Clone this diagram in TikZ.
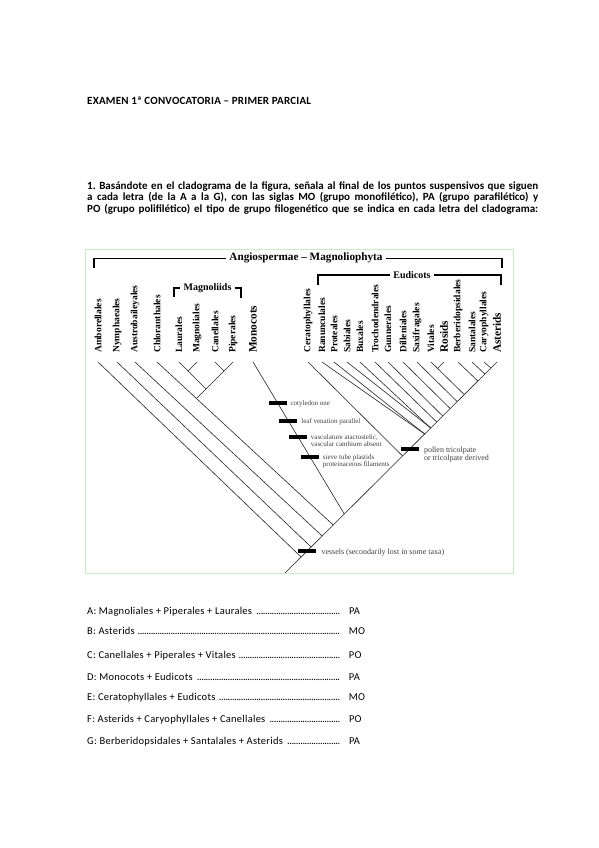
\documentclass[tikz,border=0pt]{standalone}
\usepackage{fontspec}
\setmainfont{Carlito}
\newfontfamily\tnr{Liberation Serif}
\definecolor{marco}{RGB}{200,236,200}
\newcommand{\puntos}{\leaders\hbox to 2.2pt{\hss.\hss}\hfill}
\newcommand{\respuesta}[2]{\makebox[255pt][l]{#1\ \puntos}\hspace{7pt}#2}
\newcommand{\renglon}[1]{\makebox[451pt][s]{#1}}
\frenchspacing

\begin{document}
\begin{tikzpicture}[x=1pt,y=1pt,yscale=-1,
  rama/.style={line width=0.6pt,draw=black!85},
  llave/.style={line width=1.1pt},
  taxon/.style={rotate=90,anchor=west,inner sep=0pt,font=\tnr\bfseries\fontsize{9.5}{9.5}\selectfont},
  grupo/.style={taxon,font=\tnr\bfseries\fontsize{11.3}{11.3}\selectfont},
  titulo/.style={inner sep=3pt,font=\tnr\bfseries\fontsize{11.2}{11.2}\selectfont},
  clado/.style={inner sep=3pt,font=\tnr\bfseries\fontsize{10}{10}\selectfont},
  barra/.style={fill=black,inner sep=0pt,minimum width=18pt,minimum height=4.3pt},
  nota/.style={anchor=north west,inner xsep=3.5pt,inner ysep=0pt,align=left,text=black!75,font=\tnr\fontsize{7}{6.8}\selectfont},
  enun/.style={anchor=base west,inner sep=0pt,font=\bfseries\fontsize{11}{12}\selectfont},
  resp/.style={anchor=base west,inner sep=0pt,font=\fontsize{10.5}{12}\selectfont\addfontfeature{LetterSpace=2.5}}]

\fill[white] (0,0) rectangle (599,848);
\useasboundingbox (0,0) rectangle (599,848);

%=====Enunciado=======
\node[enun,font=\bfseries\fontsize{11}{12}\selectfont\addfontfeature{LetterSpace=2}] (examen) at (87,105) {EXAMEN 1ª CONVOCATORIA – PRIMER PARCIAL};

\node[enun] (preg1) at (87,189) {\renglon{1. Basándote en el cladograma de la figura, señala al final de los puntos suspensivos que siguen}};
\node[enun] (preg2) at (87,200.7) {\renglon{a cada letra (de la A a la G), con las siglas MO (grupo monofilético), PA (grupo parafilético) y}};
\node[enun] (preg3) at (87,212.3) {\renglon{PO (grupo polifilético) el tipo de grupo filogenético que se indica en cada letra del cladograma:}};

%=====Marco de la figura=======
\draw[marco,line width=0.9pt] (85,249) rectangle (513,573);

%=====Puntas y nudos=======
\coordinate (t-amb) at (98,362);  \coordinate (t-nym) at (117,362); \coordinate (t-aus) at (135,362);
\coordinate (t-chl) at (157,362); \coordinate (t-lau) at (179,362); \coordinate (t-mag) at (197,362);
\coordinate (t-can) at (215,362); \coordinate (t-pip) at (233,362); \coordinate (t-mono) at (253,362);
\coordinate (t-cer) at (308,362); \coordinate (t-ran) at (322,362); \coordinate (t-pro) at (334,362);
\coordinate (t-sab) at (347,362); \coordinate (t-bux) at (360,362); \coordinate (t-tro) at (375,362);
\coordinate (t-gun) at (388,362); \coordinate (t-dil) at (403,362); \coordinate (t-sax) at (417,362);
\coordinate (t-vit) at (431,362); \coordinate (t-ros) at (444,362); \coordinate (t-ber) at (458,362);
\coordinate (t-san) at (472,362); \coordinate (t-car) at (484,362); \coordinate (t-ast) at (497,362);

\coordinate (j-raiz) at (285,573); \coordinate (j-amb) at (301.1,557); \coordinate (j-vasos) at (307.1,551);
\coordinate (j-nym) at (311.1,547); \coordinate (j-aus) at (322.2,536); \coordinate (j-chl) at (333.2,525);
\coordinate (j-mono) at (344.3,514); \coordinate (j-cer) at (402.6,456); \coordinate (j-polen) at (409.6,449);
\coordinate (j-eud) at (424.7,434); \coordinate (j-bux) at (430.7,428); \coordinate (j-tro) at (436.7,422);
\coordinate (j-gun) at (442.7,416); \coordinate (j-dil) at (450.1,408.5); \coordinate (j-sax) at (457.1,401.5);
\coordinate (j-vit) at (464.2,394.5); \coordinate (j-ber) at (477.9,381); \coordinate (j-san) at (484.9,374);
\coordinate (j-car) at (490.9,368);
\coordinate (j-mag) at (188,371); \coordinate (j-can) at (224,371); \coordinate (j-lau) at (206,389);
\coordinate (j-mgl) at (196.5,398.5); \coordinate (j-ros) at (437.5,368.5);

%=====Ramas=======
\draw[rama] (j-raiz) -- (t-ast);
\draw[rama] (t-amb) -- (j-amb);
\draw[rama] (t-nym) -- (j-nym);
\draw[rama] (t-aus) -- (j-aus);
\draw[rama] (t-chl) -- (j-chl);
\draw[rama] (t-pip) -- (j-mgl);
\draw[rama] (t-lau) -- (j-lau);
\draw[rama] (t-mag) -- (j-mag);
\draw[rama] (t-can) -- (j-can);
\draw[rama] (t-mono) -- (j-mono);
\draw[rama] (t-cer) -- (j-cer);
\draw[rama] (t-ran) -- (j-eud);
\draw[rama] (t-pro) -- (j-eud);
\draw[rama] (t-sab) -- (j-bux);
\draw[rama] (t-bux) -- (j-bux);
\draw[rama] (t-tro) -- (j-tro);
\draw[rama] (t-gun) -- (j-gun);
\draw[rama] (t-dil) -- (j-dil);
\draw[rama] (t-sax) -- (j-sax);
\draw[rama] (t-vit) -- (j-vit);
\draw[rama] (t-ros) -- (j-ros);
\draw[rama] (t-ber) -- (j-ber);
\draw[rama] (t-san) -- (j-san);
\draw[rama] (t-car) -- (j-car);

%=====Caracteres=======
\path (t-mono) -- (j-mono) coordinate[pos=0.27] (c-coti) coordinate[pos=0.388] (c-hoja) coordinate[pos=0.493] (c-vasc) coordinate[pos=0.625] (c-criba);

\node[barra] (b-coti) at (c-coti) {};
\node[barra] (b-hoja) at (c-hoja) {};
\node[barra] (b-vasc) at (c-vasc) {};
\node[barra] (b-criba) at (c-criba) {};
\node[barra] (b-polen) at (j-polen) {};
\node[barra] (b-vasos) at (j-vasos) {};

\node[nota] (n-coti) at (b-coti.north east) {cotyledon one};
\node[nota] (n-hoja) at (b-hoja.north east) {leaf venation parallel};
\node[nota] (n-vasc) at (b-vasc.north east) {vasculature atactostelic,\\vascular cambium absent};
\node[nota] (n-criba) at (b-criba.north east) {sieve tube plastids\\proteinaceous filaments};
\node[nota,inner xsep=5pt,font=\tnr\fontsize{8}{7.8}\selectfont] (n-polen) at (b-polen.north east) {pollen tricolpate\\or tricolpate derived};
\node[nota,inner xsep=5pt,font=\tnr\fontsize{8}{7.8}\selectfont] (n-vasos) at (b-vasos.north east) {vessels (secondarily lost in some taxa)};

%=====Nombres=======
\node[taxon] (l-amb) at (98,353) {Amborellales};
\node[taxon] (l-nym) at (117,353) {Nymphaeales};
\node[taxon] (l-aus) at (135,353) {Austrobaileyales};
\node[taxon] (l-chl) at (157,353) {Chloranthales};
\node[taxon] (l-lau) at (179,353) {Laurales};
\node[taxon] (l-mag) at (197,353) {Magnoliales};
\node[taxon] (l-can) at (215,353) {Canellales};
\node[taxon] (l-pip) at (233,353) {Piperales};
\node[grupo] (l-mono) at (253,353) {Monocots};
\node[taxon] (l-cer) at (308,353) {Ceratophyllales};
\node[taxon] (l-ran) at (322,353) {Ranunculales};
\node[taxon] (l-pro) at (334,353) {Proteales};
\node[taxon] (l-sab) at (347,353) {Sabiales};
\node[taxon] (l-bux) at (360,353) {Buxales};
\node[taxon] (l-tro) at (375,353) {Trochodendrales};
\node[taxon] (l-gun) at (388,353) {Gunnerales};
\node[taxon] (l-dil) at (403,353) {Dilleniales};
\node[taxon] (l-sax) at (417,353) {Saxifragales};
\node[taxon] (l-vit) at (431,353) {Vitales};
\node[grupo] (l-ros) at (444,353) {Rosids};
\node[taxon] (l-ber) at (458,353) {Berberidopsidales};
\node[taxon] (l-san) at (472,353) {Santalales};
\node[taxon] (l-car) at (484,353) {Caryophyllales};
\node[grupo] (l-ast) at (497,353) {Asterids};

%=====Llaves=======
\coordinate (a-izq) at (94,268);  \coordinate (a-der) at (502,268);
\coordinate (e-izq) at (318,285); \coordinate (e-der) at (501,285);
\coordinate (m-izq) at (174,297); \coordinate (m-der) at (241,298);
\node[titulo] (a-tit) at (306,258.3) {Angiospermae – Magnoliophyta};
\node[clado] (e-tit) at (412,275) {Eudicots};
\node[clado] (m-tit) at (207.5,288) {Magnoliids};
\draw[llave] (a-izq) |- (a-tit.west);
\draw[llave] (a-tit.east) -| (a-der);
\draw[llave] (e-izq) |- (e-tit.west);
\draw[llave] (e-tit.east) -| (e-der);
\draw[llave] (m-izq) |- (m-tit.west);
\draw[llave] (m-tit.east) -| (m-der);

%=====Respuestas=======
\node[resp] (r-a) at (87,614.3) {\respuesta{A: Magnoliales + Piperales + Laurales}{PA}};
\node[resp] (r-b) at (87,634.3) {\respuesta{B: Asterids}{MO}};
\node[resp] (r-c) at (87,658.3) {\respuesta{C: Canellales + Piperales + Vitales}{PO}};
\node[resp] (r-d) at (87,680) {\respuesta{D: Monocots + Eudicots}{PA}};
\node[resp] (r-e) at (87,700) {\respuesta{E: Ceratophyllales + Eudicots}{MO}};
\node[resp] (r-f) at (87,722.3) {\respuesta{F: Asterids + Caryophyllales + Canellales}{PO}};
\node[resp] (r-g) at (87,744.3) {\respuesta{G: Berberidopsidales + Santalales + Asterids}{PA}};

\end{tikzpicture}
\end{document}
